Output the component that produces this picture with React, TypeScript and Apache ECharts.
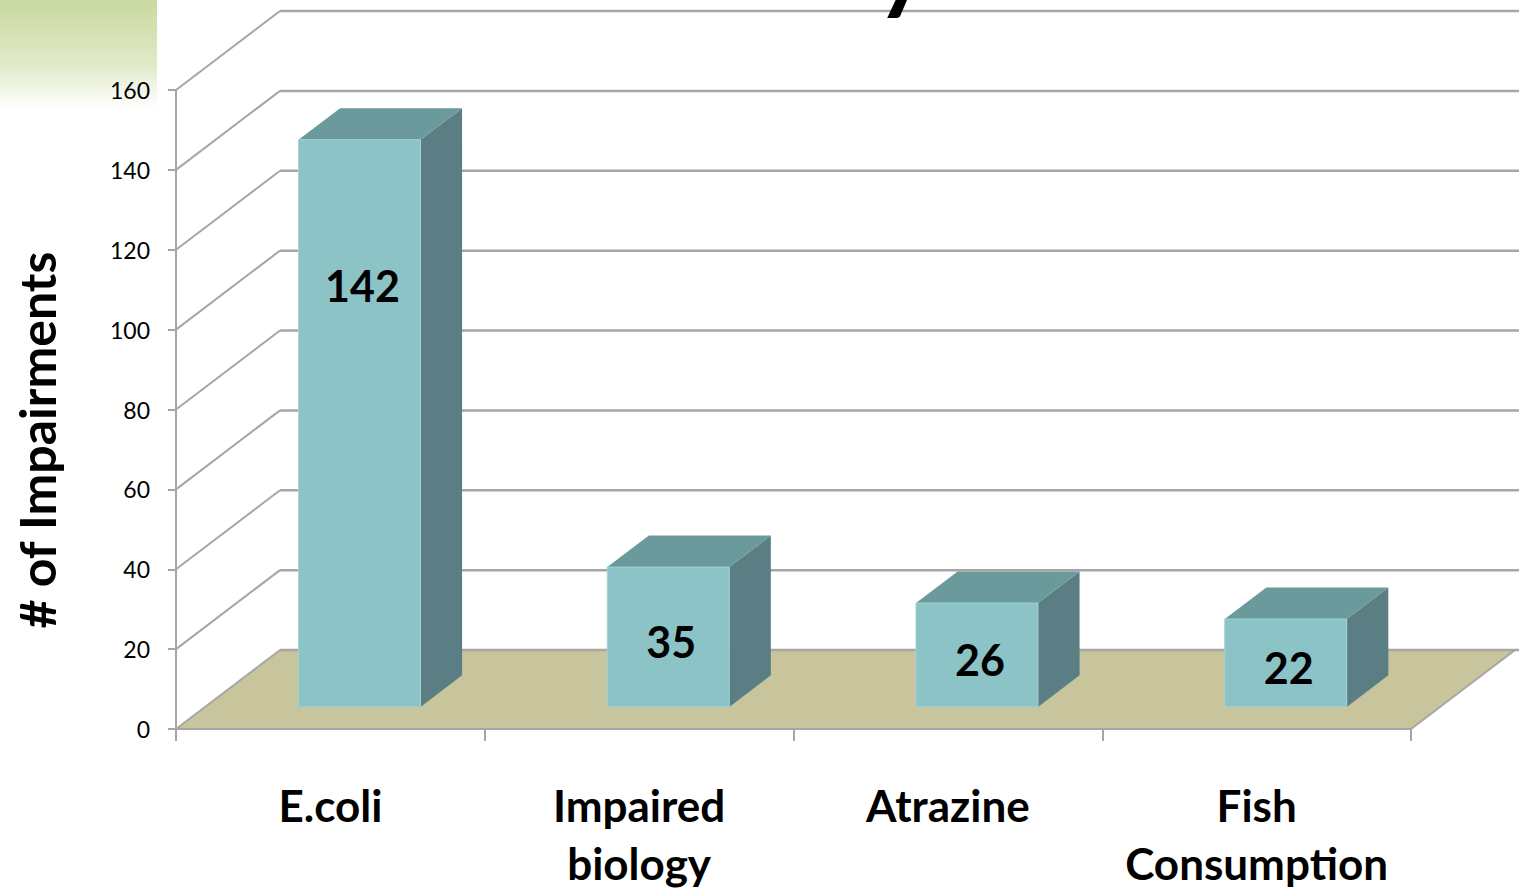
import React, { useEffect, useRef } from "react";
import * as echarts from "echarts";

const categories = ["E.coli", "Impaired biology", "Atrazine", "Fish Consumption"];
const impairments = [142, 35, 26, 22];
const yTicks = [0, 20, 40, 60, 80, 100, 120, 140, 160];
const yAxisTitle = "# of Impairments";

const DEPTH_X = 104;
const DEPTH_Y = 79;
const BAR_FRONT = 0.28;
const BAR_BACK = 0.68;
const BAR_WIDTH_RATIO = 0.395;
const GRID_COLOR = "#a6a6a6";
const FONT = "Lato, 'Open Sans', sans-serif";

export default function App() {
  const ref = useRef<HTMLDivElement>(null);
  useEffect(() => {
    if (!ref.current) return;
    const chart = echarts.init(ref.current, null, { renderer: "svg" });
    const option: any = {
      animation: false,
      backgroundColor: "#ffffff",
      grid: { left: 176, top: 90, width: 1235, height: 645, containLabel: false },
      graphic: [
        {
          type: "rect",
          left: 0,
          top: 0,
          z: -10,
          shape: { x: 0, y: 0, width: 157, height: 108 },
          style: {
            fill: new echarts.graphic.LinearGradient(0, 0, 0, 1, [
              { offset: 0, color: "#c9d9a0" },
              { offset: 0.6, color: "#e1eac8" },
              { offset: 1, color: "#ffffff" },
            ]),
          },
        },
        {
          type: "text",
          x: 902,
          y: 12,
          z: 10,
          style: {
            text: "y",
            fontFamily: FONT,
            fontWeight: "bold",
            fontSize: 100,
            fill: "#000",
            textAlign: "center",
            textVerticalAlign: "bottom",
            align: "center",
            verticalAlign: "bottom",
          },
        },
        {
          type: "text",
          x: 37,
          y: 440,
          rotation: Math.PI / 2,
          z: 10,
          style: {
            text: yAxisTitle,
            fontFamily: FONT,
            fontWeight: "bold",
            fontSize: 50,
            fill: "#000",
            textAlign: "center",
            textVerticalAlign: "middle",
            align: "center",
            verticalAlign: "middle",
          },
        },
      ],
      xAxis: {
        type: "category",
        data: categories,
        axisLine: { show: true, lineStyle: { color: GRID_COLOR, width: 2 } },
        axisTick: { show: true, length: 12, interval: 0, lineStyle: { color: GRID_COLOR, width: 2 } },
        axisLabel: {
          interval: 0,
          margin: 47,
          fontFamily: FONT,
          fontWeight: "bold",
          fontSize: 44,
          lineHeight: 58,
          color: "#000",
          formatter: (v: string) => v.replace(" ", "\n"),
        },
        splitLine: { show: false },
        z: 5,
      },
      yAxis: {
        type: "value",
        min: 0,
        max: 160,
        interval: 20,
        axisLine: { show: true, lineStyle: { color: GRID_COLOR, width: 2 } },
        axisTick: { show: true, length: 8, lineStyle: { color: GRID_COLOR, width: 2 } },
        axisLabel: { margin: 26, fontFamily: FONT, fontSize: 23, color: "#000" },
        splitLine: { show: false },
        z: 5,
      },
      series: [
        {
          type: "custom",
          name: "floor",
          z: 1,
          silent: true,
          data: [[0, 0]],
          renderItem: (params: any, api: any) => {
            const cs = params.coordSys;
            const y0 = api.coord([0, 0])[1];
            const l = cs.x;
            const r = cs.x + cs.width;
            return {
              type: "group",
              children: [
                {
                  type: "polygon",
                  shape: { points: [[l, y0], [r, y0], [r + DEPTH_X, y0 - DEPTH_Y], [l + DEPTH_X, y0 - DEPTH_Y]] },
                  style: { fill: "#c8c49b" },
                },
                {
                  type: "line",
                  shape: { x1: r, y1: y0, x2: r + DEPTH_X, y2: y0 - DEPTH_Y },
                  style: { stroke: GRID_COLOR, lineWidth: 2 },
                },
              ],
            };
          },
        },
        {
          type: "custom",
          name: "walls",
          z: 2,
          silent: true,
          data: yTicks.map((t) => [0, t]),
          renderItem: (params: any, api: any) => {
            const cs = params.coordSys;
            const y = api.coord([0, api.value(1)])[1];
            const l = cs.x;
            const r = cs.x + cs.width;
            return {
              type: "group",
              children: [
                {
                  type: "line",
                  shape: { x1: l, y1: y, x2: l + DEPTH_X, y2: y - DEPTH_Y },
                  style: { stroke: GRID_COLOR, lineWidth: 2 },
                },
                {
                  type: "line",
                  shape: { x1: l + DEPTH_X, y1: y - DEPTH_Y, x2: r + DEPTH_X + 8, y2: y - DEPTH_Y },
                  style: { stroke: GRID_COLOR, lineWidth: 2.5 },
                },
              ],
            };
          },
        },
        {
          type: "custom",
          name: "impairments",
          z: 3,
          data: impairments.map((v, i) => [i, v]),
          renderItem: (params: any, api: any) => {
            const idx = api.value(0);
            const v = api.value(1);
            const base = api.coord([idx, 0]);
            const topY = api.coord([idx, v])[1];
            const bw = api.size([1, 0])[0];
            const w = bw * BAR_WIDTH_RATIO;
            const fx = DEPTH_X * BAR_FRONT;
            const fy = DEPTH_Y * BAR_FRONT;
            const x0 = base[0] - w / 2 + fx;
            const x1 = x0 + w;
            const yb = base[1] - fy;
            const yt = topY - fy;
            const dX = DEPTH_X * (BAR_BACK - BAR_FRONT);
            const dY = DEPTH_Y * (BAR_BACK - BAR_FRONT);
            const labelY = Math.min((yt + yb) / 2 + 5, yt + 146);
            return {
              type: "group",
              children: [
                {
                  type: "polygon",
                  shape: { points: [[x1, yt], [x1 + dX, yt - dY], [x1 + dX, yb - dY], [x1, yb]] },
                  style: { fill: "#5a7e83" },
                },
                {
                  type: "polygon",
                  shape: { points: [[x0, yt], [x0 + dX, yt - dY], [x1 + dX, yt - dY], [x1, yt]] },
                  style: { fill: "#6a9a9b" },
                },
                {
                  type: "rect",
                  shape: { x: x0, y: yt, width: w, height: yb - yt },
                  style: { fill: "#8bc3c6", stroke: "#a3d3d5", lineWidth: 1 },
                },
                {
                  type: "text",
                  x: x0 + w / 2 + 3,
                  y: labelY,
                  style: {
                    text: String(v),
                    fontFamily: FONT,
                    fontWeight: "bold",
                    fontSize: 43,
                    fill: "#000",
                    textAlign: "center",
                    textVerticalAlign: "middle",
                    align: "center",
                    verticalAlign: "middle",
                  },
                },
              ],
            };
          },
        },
      ],
    };
    chart.setOption(option);
    return () => chart.dispose();
  }, []);
  return (
    <div
      ref={ref}
      style={{ position: "fixed", left: 0, top: 0, width: 1519, height: 892 }}
    />
  );
}
